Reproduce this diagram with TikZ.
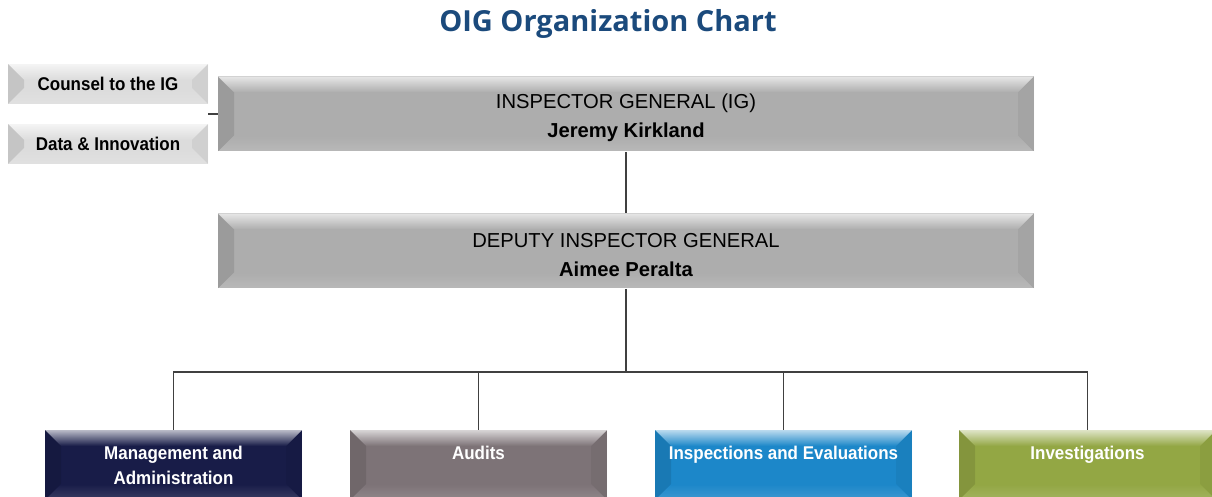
\documentclass[tikz,border=0pt]{standalone}
\usepackage{fontspec}
\setmainfont{Liberation Sans}
\newfontfamily\narrowfont{Liberation Sans}[FakeStretch=0.92]
\newfontfamily\headfont{Open Sans}
\usetikzlibrary{calc,fadings}

\definecolor{titleblue}{HTML}{1B4A7C}
\definecolor{linegray}{HTML}{404040}
\definecolor{boxgray}{HTML}{ADADAD}
\definecolor{sidegray}{HTML}{DCDCDC}
\definecolor{mgmtcol}{HTML}{181C48}
\definecolor{auditcol}{HTML}{7D7377}
\definecolor{inspcol}{HTML}{1C87C9}
\definecolor{invcol}{HTML}{93A744}

% bevel depth of the boxes
\newcommand\bev{0.32cm}

\begin{document}
\begin{tikzpicture}[
  link/.style={draw=linegray, line width=0.6pt},
  bevel/.style={path picture={
    \coordinate (bl) at (path picture bounding box.south west);
    \coordinate (tr) at (path picture bounding box.north east);
    \coordinate (tl) at (bl |- tr);
    \coordinate (br) at (tr |- bl);
    % top, left, right and bottom faces
    \fill[white, fill opacity=.7, path fading=south] (tl) -- (tr) -- ($(tr)+(-\bev,-\bev)$) -- ($(tl)+(\bev,-\bev)$) -- cycle;
    \fill[black, fill opacity=.10] (tl) -- ($(tl)+(\bev,-\bev)$) -- ($(bl)+(\bev,\bev)$) -- (bl) -- cycle;
    \fill[black, fill opacity=.05] (tr) -- ($(tr)+(-\bev,-\bev)$) -- ($(br)+(-\bev,\bev)$) -- (br) -- cycle;
    \fill[white, fill opacity=.15, path fading=north] (bl) -- ($(bl)+(\bev,\bev)$) -- ($(br)+(-\bev,\bev)$) -- (br) -- cycle;
  }},
  topbox/.style={bevel, fill=boxgray, minimum width=16.32cm, minimum height=1.5cm},
  toptext/.style={align=center, font=\fontsize{11.5}{16.5}\selectfont},
  sidebox/.style={bevel, fill=sidegray, minimum width=4cm, minimum height=0.8cm,
    font=\narrowfont\bfseries\fontsize{10.5}{12}\selectfont},
  unitbox/.style={bevel, minimum width=5.14cm, minimum height=1.4cm},
  unittext/.style={anchor=north, align=center, text=white,
    font=\narrowfont\bfseries\fontsize{10.5}{14.2}\selectfont}
]

\useasboundingbox (0,0) rectangle (24.24,-9.94);

% Title
\node[anchor=base, text=titleblue, font=\headfont\bfseries\fontsize{16.5}{20}\selectfont]
  (title) at (12.16,-0.64) {OIG Organization Chart};

% Front office
\node[topbox] (ig) at (12.52,-2.28) {};
\node[topbox] (deputy) at (12.52,-5.02) {};
\node[toptext] (ig-label) at ([yshift=-0.08cm]ig.center) {INSPECTOR GENERAL (IG)\\\textbf{Jeremy Kirkland}};
\node[toptext] (deputy-label) at ([yshift=-0.08cm]deputy.center) {DEPUTY INSPECTOR GENERAL\\\textbf{Aimee Peralta}};

% Staff offices beside the IG
\node[sidebox] (counsel) at (2.16,-1.68) {Counsel to the IG};
\node[sidebox] (data) at (2.16,-2.88) {Data \& Innovation};

% The four components
\node[unitbox, fill=mgmtcol] (mgmt) at (3.47,-9.3) {};
\node[unitbox, fill=auditcol] (audits) at (9.57,-9.3) {};
\node[unitbox, fill=inspcol] (insp) at (15.67,-9.3) {};
\node[unitbox, fill=invcol] (inv) at (21.75,-9.3) {};

\node[unittext] (mgmt-label) at ([yshift=-0.2cm]mgmt.north) {Management and\\Administration};
\node[unittext] (audits-label) at ([yshift=-0.2cm]audits.north) {Audits};
\node[unittext] (insp-label) at ([yshift=-0.2cm]insp.north) {Inspections and Evaluations};
\node[unittext] (inv-label) at ([yshift=-0.2cm]inv.north) {Investigations};

% Connectors
\coordinate (side) at (counsel.east |- ig.west);
\draw[link] (side) -- (ig.west);
\draw[link] (ig) -- (deputy);

\coordinate (bus) at (12.52,-7.44);
\draw[link] (deputy) -- (bus);
\draw[link] (mgmt.north) |- (bus) -| (inv.north);
\foreach \u in {audits,insp}
    \draw[link] (\u.north) -- (\u.north |- bus);

\end{tikzpicture}
\end{document}
